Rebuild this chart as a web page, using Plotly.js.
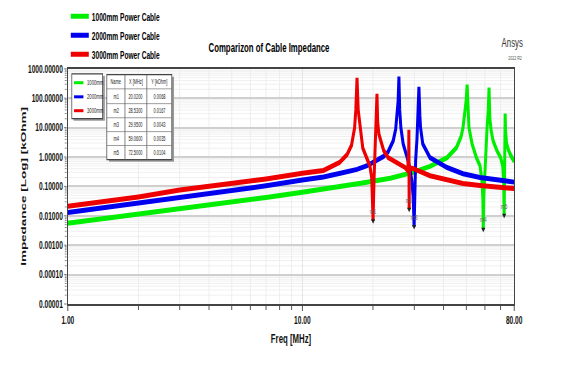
<!DOCTYPE html>
<html>
<head>
<meta charset="utf-8">
<script src="https://cdn.plot.ly/plotly-3.0.1.min.js"></script>
<style>
html,body{margin:0;padding:0;background:#fff;overflow:hidden;}
#wrap{width:561px;height:368px;overflow:hidden;position:relative;}
#chart{width:935px;height:368px;transform:scaleX(0.6);transform-origin:0 0;position:absolute;left:0;top:0;}
</style>
</head>
<body>
<div id="wrap"><div id="chart"></div></div>
<script>
// ---- data ----
const seriesNames = ["1000mm Power Cable", "2000mm Power Cable", "3000mm Power Cable"];
const shortNames = ["1000mm", "2000mm", "3000mm"];
const seriesColors = ["#00ee00", "#0000ee", "#ee0000"];

const freq1000 = [1, 1.5, 2, 3, 4, 5, 7, 10, 13, 18, 23.7, 29.6, 35, 41.4, 45.4, 47.5, 48.4, 49.3, 49.9, 50.4, 50.9, 51.3, 52.9, 55.2, 57.2, 58.3, 58.8, 59.06, 59.4, 60.2, 61.3, 62.0, 62.5, 63.0, 63.8, 65, 67.5, 70, 71.5, 72.1, 72.5, 72.8, 73.0, 73.2, 73.5, 74.2, 75.7, 77.5, 80];
const imp1000  = [0.0056, 0.0084, 0.0112, 0.017, 0.023, 0.029, 0.042, 0.063, 0.085, 0.13, 0.19, 0.3, 0.48, 0.95, 2.1, 5, 10, 30, 80, 290, 30, 10, 2.8, 0.95, 0.5, 0.15, 0.04, 0.0035, 0.05, 0.75, 10, 40, 230, 20, 8, 3.6, 1.66, 0.95, 0.5, 0.15, 0.0104, 0.3, 3, 30, 8, 3, 1.66, 1.1, 0.7];

const freq2000 = [1, 1.5, 2, 3, 5, 7, 10, 12.3, 15, 17.1, 19, 20.8, 22.2, 23.2, 24.4, 25.0, 25.4, 25.6, 25.8, 26.0, 26.3, 26.9, 28, 28.7, 29.3, 29.7, 29.95, 30.1, 30.4, 30.8, 31.1, 31.4, 31.7, 31.9, 32.6, 35, 41.4, 48.4, 57.2, 67.5, 80];
const imp2000  = [0.013, 0.02, 0.027, 0.042, 0.072, 0.105, 0.165, 0.21, 0.3, 0.38, 0.52, 0.75, 1.05, 1.5, 3.6, 9, 30, 80, 540, 40, 10, 2.8, 0.95, 0.44, 0.15, 0.04, 0.0043, 0.08, 0.75, 4, 37, 245, 25, 10, 2.8, 0.95, 0.44, 0.27, 0.2, 0.16, 0.14];

const freq3000 = [1, 1.5, 2, 3, 5, 7, 10, 12.3, 14.4, 15.5, 16.2, 16.7, 16.9, 17.1, 17.3, 17.5, 17.8, 18.1, 18.8, 19.4, 19.75, 20.02, 20.2, 20.45, 20.65, 20.72, 20.8, 20.88, 20.95, 21.2, 21.5, 22.2, 23.2, 25.3, 27.4, 28.1, 28.4, 28.45, 28.5, 28.53, 28.6, 28.9, 29.6, 35, 41.4, 48.4, 57.2, 67.5, 80];
const imp3000  = [0.021, 0.032, 0.044, 0.075, 0.125, 0.18, 0.28, 0.35, 0.65, 1.2, 2.5, 10, 40, 490, 40, 15, 6, 2, 1.0, 0.5, 0.2, 0.0068, 0.15, 2, 15, 40, 141, 40, 15, 6, 4, 1.7, 0.95, 0.65, 0.44, 0.35, 1.5, 8.5, 0.5, 0.0167, 0.3, 0.42, 0.41, 0.23, 0.16, 0.125, 0.107, 0.093, 0.085];

const markerNames = ["m1", "m2", "m3", "m4", "m5"];
const markerX = [20.02, 28.53, 29.95, 59.06, 72.5];
const markerY = [0.0068, 0.0167, 0.0043, 0.0035, 0.0104];
const markerXText = ["20.0200", "28.5300", "29.9500", "59.0600", "72.5000"];
const markerYText = ["0.0068", "0.0167", "0.0043", "0.0035", "0.0104"];
const tableHeader = ["Name", "X [MHz]", "Y [kOhm]"];

const xTickVals = [1, 10, 80];
const xTickText = ["1.00", "10.00", "80.00"];
const xMinorVals = [2, 3, 4, 5, 6, 7, 8, 9, 20, 30, 40, 50, 60, 70];
const yTickVals = [0.00001, 0.0001, 0.001, 0.01, 0.1, 1, 10, 100, 1000];
const yTickText = ["0.00001", "0.00010", "0.00100", "0.01000", "0.10000", "1.00000", "10.00000", "100.00000", "1000.00000"];

// ---- build ----
// the figure is drawn 1/0.6 wider and squeezed horizontally by CSS (condensed look of the reference)
const SX = 0.6;
const W = 561 / SX, H = 368;
const FONT = "'Liberation Sans', Arial, sans-serif";
const xs = [freq1000, freq2000, freq3000];
const ys = [imp1000, imp2000, imp3000];

const yMinor = [];
for (let e = -5; e < 3; e++) for (let k = 2; k <= 9; k++) yMinor.push(k * Math.pow(10, e));

const traces = xs.map((x, i) => ({
  type: "scatter", mode: "lines", x: x, y: ys[i], name: seriesNames[i],
  line: {color: seriesColors[i], width: 5}
}));
traces.push({
  type: "scatter", mode: "markers+text", x: markerX, y: markerY, text: markerNames,
  textposition: "top center", textfont: {size: 8, color: "#666", family: FONT},
  marker: {symbol: "triangle-down", size: 6, color: "#222"}, showlegend: false, hoverinfo: "skip"
});

const shapes = [];
const annotations = [];
const px = 446, py = 236; // plot area size in reference pixels
// inner legend box with shadow
shapes.push({type: "rect", xref: "paper", yref: "paper", x0: 0.013, x1: 0.083, y0: 0.779, y1: 0.970, fillcolor: "#9a9a9a", line: {width: 0}});
shapes.push({type: "rect", xref: "paper", yref: "paper", x0: 0.009, x1: 0.078, y0: 0.788, y1: 0.979, fillcolor: "#ffffff", line: {color: "#444", width: 1.2}});
const legY = [0.941, 0.881, 0.822];
shortNames.forEach((n, i) => {
  shapes.push({type: "line", xref: "paper", yref: "paper", x0: 0.014, x1: 0.035, y0: legY[i], y1: legY[i], line: {color: seriesColors[i], width: 3}});
  annotations.push({xref: "paper", yref: "paper", x: 0.040, y: legY[i], text: n, showarrow: false, xanchor: "left", yanchor: "middle", font: {size: 7, color: "#222", family: FONT}});
});
// marker table
const tx = [0.0874, 0.128, 0.177, 0.233];
const tyLines = [0.975, 0.915, 0.852, 0.792, 0.733, 0.674, 0.614];
shapes.push({type: "rect", xref: "paper", yref: "paper", x0: tx[0] + 0.005, x1: tx[3] + 0.005, y0: tyLines[6] - 0.009, y1: tyLines[0] - 0.009, fillcolor: "#9a9a9a", line: {width: 0}});
shapes.push({type: "rect", xref: "paper", yref: "paper", x0: tx[0], x1: tx[3], y0: tyLines[6], y1: tyLines[0], fillcolor: "#ffffff", line: {color: "#444", width: 1.2}});
[1, 2].forEach(c => shapes.push({type: "line", xref: "paper", yref: "paper", x0: tx[c], x1: tx[c], y0: tyLines[6], y1: tyLines[0], line: {color: "#666", width: 1}}));
for (let r = 1; r < 6; r++) shapes.push({type: "line", xref: "paper", yref: "paper", x0: tx[0], x1: tx[3], y0: tyLines[r], y1: tyLines[r], line: {color: "#666", width: 0.8}});
const colC = [(tx[0] + tx[1]) / 2, (tx[1] + tx[2]) / 2, (tx[2] + tx[3]) / 2];
const rowC = [];
for (let r = 0; r < 6; r++) rowC.push((tyLines[r] + tyLines[r + 1]) / 2);
const cell = (t, c, r) => annotations.push({xref: "paper", yref: "paper", x: colC[c], y: rowC[r], text: t, showarrow: false, xanchor: "center", yanchor: "middle", font: {size: 6.5, color: "#222", family: FONT}});
tableHeader.forEach((h, c) => cell(h, c, 0));
markerNames.forEach((m, r) => { cell(m, 0, r + 1); cell(markerXText[r], 1, r + 1); cell(markerYText[r], 2, r + 1); });

// Ansys logo text
annotations.push({xref: "paper", yref: "paper", x: 1 + 10 / px, y: 1 + 26 / py, text: "Ansys", showarrow: false, xanchor: "right", yanchor: "middle", font: {size: 13, color: "#333", family: FONT}});
annotations.push({xref: "paper", yref: "paper", x: 1 + 9 / px, y: 1 + 11 / py, text: "2022 R2", showarrow: false, xanchor: "right", yanchor: "middle", font: {size: 6, color: "#555", family: FONT}});

const layout = {
  width: W, height: H,
  margin: {l: 68 / SX, r: 47 / SX, t: 68, b: 64},
  paper_bgcolor: "#ffffff", plot_bgcolor: "#ffffff",
  font: {family: FONT, color: "#000"},
  title: {text: "Comparizon of Cable Impedance", x: 269 / 561, xanchor: "center", y: 1 - 47 / 368, yanchor: "middle", font: {size: 13, color: "#000", family: FONT, weight: "bold"}},
  showlegend: true,
  legend: {x: 0.0, xanchor: "left", xref: "paper", y: 0.995, yanchor: "top", yref: "container", bgcolor: "rgba(0,0,0,0)", font: {size: 11, color: "#000", family: FONT, weight: "bold"}, tracegroupgap: 0},
  xaxis: {
    type: "log", range: [0, Math.log10(80)],
    tickmode: "array", tickvals: xTickVals, ticktext: xTickText,
    ticks: "outside", ticklen: 5, tickcolor: "#444", tickwidth: 1.5,
    showgrid: true, gridcolor: "#e2e2e2", gridwidth: 1.5,
    minor: {tickmode: "array", tickvals: xMinorVals, ticks: "outside", ticklen: 4, tickcolor: "#444", showgrid: true, gridcolor: "#ececec", gridwidth: 1.5},
    showline: true, linecolor: "#444", linewidth: 2, mirror: true,
    tickfont: {size: 11, color: "#111", family: FONT, weight: "bold"},
    title: {text: "<b>Freq [MHz]</b>", font: {size: 13, color: "#111", family: FONT}, standoff: 9},
    zeroline: false
  },
  yaxis: {
    type: "log", range: [-5, 3],
    tickmode: "array", tickvals: yTickVals, ticktext: yTickText,
    ticks: "outside", ticklen: 4, tickcolor: "#444",
    showgrid: true, gridcolor: "#cfcfcf", gridwidth: 2,
    minor: {tickmode: "array", tickvals: yMinor, ticks: "outside", ticklen: 3, tickcolor: "#666", showgrid: true, gridcolor: "#ececec", gridwidth: 1},
    showline: true, linecolor: "#444", linewidth: 2, mirror: true,
    tickfont: {size: 11, color: "#111", family: FONT, weight: "bold"},
    title: {text: "<b>Impedance [Log] [kOhm]</b>", font: {size: 13.5, color: "#111", family: FONT}, standoff: 0},
    zeroline: false
  },
  shapes: shapes,
  annotations: annotations
};

Plotly.newPlot("chart", traces, layout, {staticPlot: true, displayModeBar: false});
</script>
</body>
</html>
